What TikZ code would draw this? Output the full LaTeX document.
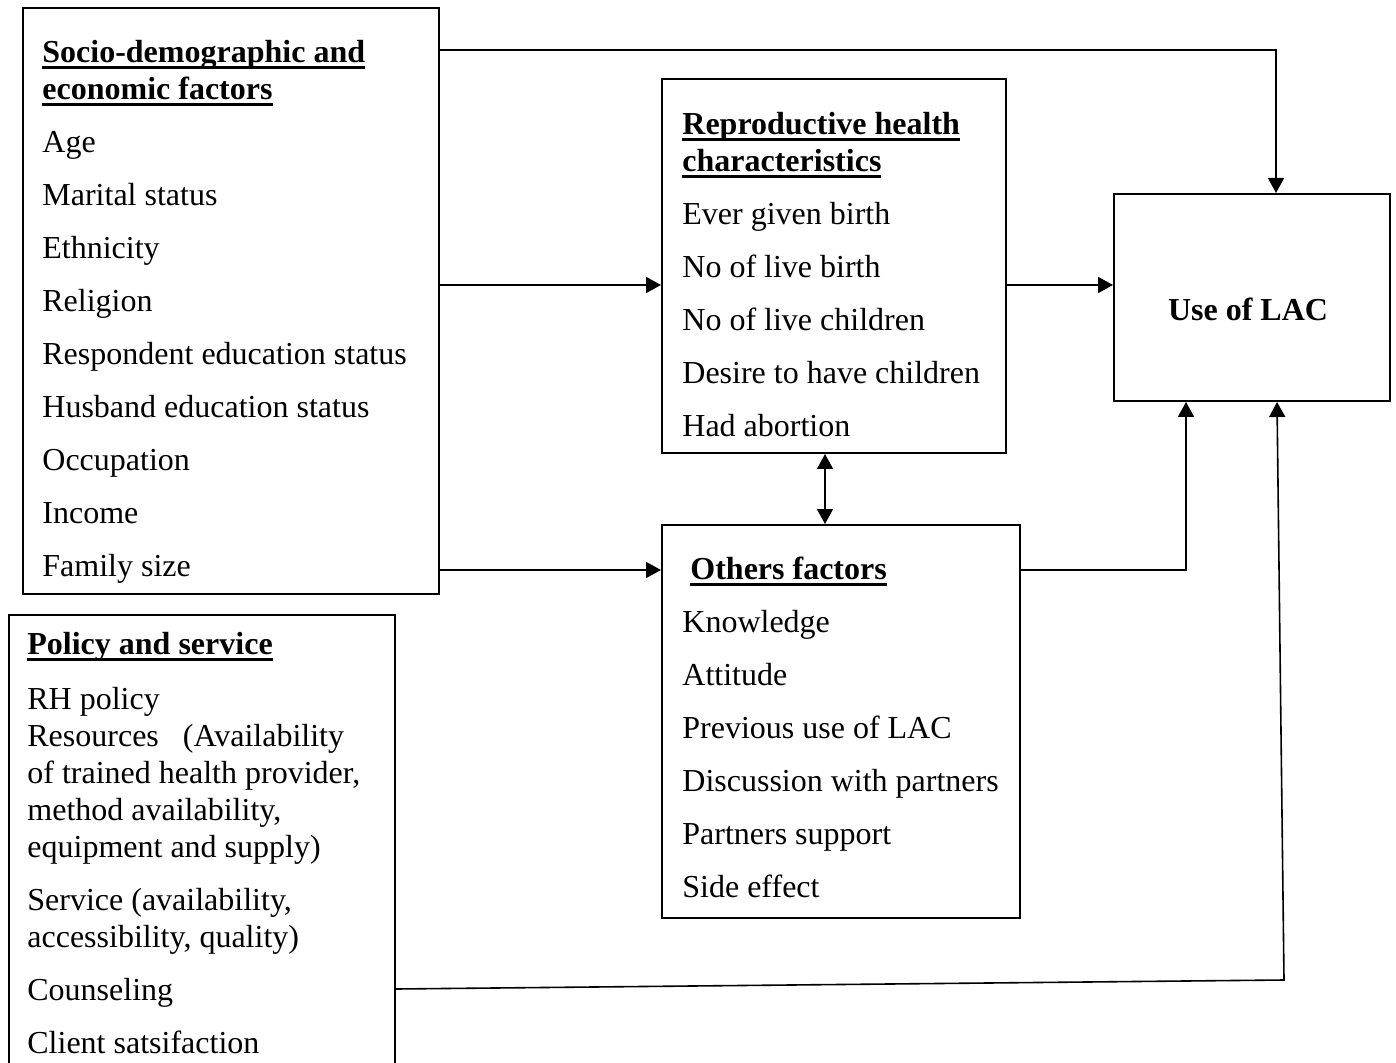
\documentclass[tikz,border=0pt]{standalone}
\usepackage{fontspec}
\setmainfont{Liberation Serif}
\usetikzlibrary{arrows.meta,positioning}
\newcommand{\ulhead}[1]{\setbox0\hbox{\bfseries #1}\rlap{\rule[-3.5pt]{\wd0}{1.5pt}}\box0}
\newcommand{\firstline}{\rule{0pt}{12pt}}
\tikzset{
  factorbox/.style={draw, line width=1pt, inner sep=0pt, anchor=north west},
  itemlist/.style={anchor=north west, inner sep=0pt, align=left,
    font=\fontsize{16}{18.5}\selectfont},
  link/.style={line width=0.8pt, -{Triangle[length=7.5pt,width=8pt]}},
}
\begin{document}
\begin{tikzpicture}[x=0.5pt, y=-0.5pt]
  \useasboundingbox (0,0) rectangle (1396,1063);

  % boxes
  \node[factorbox, minimum width=208pt, minimum height=293pt] (soc) at (22,7) {};
  \node[factorbox, minimum width=172pt, minimum height=187pt] (rep) at (661,78) {};
  \node[factorbox, minimum width=179pt, minimum height=196.5pt] (oth) at (661,524) {};
  \node[factorbox, minimum width=138pt, minimum height=103.5pt] (lac) at (1113,193) {};
  \node[factorbox, minimum width=193pt, minimum height=235pt] (pol) at (8,614) {};

  % box texts
  \node[itemlist] (soc-t) at (42,38) {\firstline\ulhead{Socio-demographic and}\\
    \ulhead{economic factors}\\[8pt]
    Age\\[8pt] Marital status\\[8pt] Ethnicity\\[8pt] Religion\\[8pt]
    Respondent education status\\[8pt] Husband education status\\[8pt]
    Occupation\\[8pt] Income\\[8pt] Family size};
  \node[itemlist] (rep-t) at (682,110) {\firstline\ulhead{Reproductive health}\\
    \ulhead{characteristics}\\[8pt]
    Ever given birth\\[8pt] No of live birth\\[8pt] No of live children\\[8pt]
    Desire to have children\\[8pt] Had abortion};
  \node[itemlist] (oth-t) at (682,555) {\firstline\hspace*{4pt}\ulhead{Others factors}\\[8pt]
    Knowledge\\[8pt] Attitude\\[8pt] Previous use of LAC\\[8pt]
    Discussion with partners\\[8pt] Partners support\\[8pt] Side effect};
  \node[itemlist] (pol-t) at (27,630) {\firstline\ulhead{Policy and service}\\[9pt]
    RH policy\\ Resources\ \ \ (Availability\\ of trained health provider,\\
    method availability,\\ equipment and supply)\\[8pt]
    Service (availability,\\ accessibility, quality)\\[8pt]
    Counseling\\[8pt] Client satsifaction};
  \node[anchor=base, font=\fontsize{16}{18.5}\selectfont\bfseries] (lac-t)
    at ([xshift=-2pt,yshift=-11.5pt]lac.center) {Use of LAC};

  % connectors
  \coordinate (r-in) at ([yshift=-9.5pt]rep.west);
  \coordinate (o-in) at ([yshift=-23pt]oth.north west);
  \coordinate (p-out) at ([yshift=-187.5pt]pol.north east);
  \coordinate (bend) at (1284,980);
  \draw[link] ([yshift=-21.5pt]soc.north east) -| ([xshift=12pt]lac.north);
  \draw[link] (soc.east |- r-in) -- (r-in);
  \draw[link] (rep.east |- r-in) -- (lac.west |- r-in);
  \draw[link] (soc.east |- o-in) -- (o-in);
  \draw[link] (oth.east |- o-in) -| ([xshift=-33pt]lac.south);
  \draw[link, {Triangle[length=7.5pt,width=8pt]}-{Triangle[length=7.5pt,width=8pt]}]
    ([xshift=-4.5pt]rep.south) -- ([xshift=-4.5pt]rep.south |- oth.north);
  \draw[link] (p-out) -- (bend) -- ([xshift=12.5pt]lac.south);
\end{tikzpicture}
\end{document}
